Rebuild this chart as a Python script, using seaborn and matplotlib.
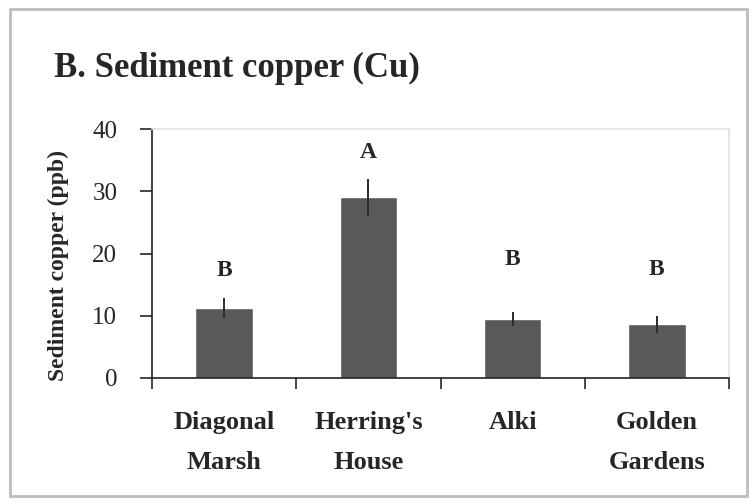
import pandas as pd
import matplotlib.pyplot as plt
import seaborn as sns
from matplotlib.patches import Rectangle

# Values
sites = ['Diagonal\nMarsh', "Herring's\nHouse", 'Alki', 'Golden\nGardens']
copper = [11.3, 29.0, 9.5, 8.6]
copper_err = [1.6, 3.0, 1.1, 1.3]
letters = ['B', 'A', 'B', 'B']
letter_y = [17.3, 36.3, 19.0, 17.5]

df = pd.DataFrame({'site': sites, 'copper': copper})

sns.set_style('white')
plt.rcParams['font.family'] = ['Liberation Serif', 'DejaVu Serif']

fig = plt.figure(figsize=(7.55, 5.04), dpi=100)
ax = fig.add_axes([0.2013, 0.25, 0.7643, 0.494])

# Bars and error bars
sns.barplot(data=df, x='site', y='copper', color='#595959', width=0.4,
            errorbar=None, saturation=1, ax=ax)
ax.errorbar(range(len(sites)), copper, yerr=copper_err, fmt='none',
            ecolor='#2a2a2a', elinewidth=1.4, capsize=0)

# Significance letters
for i, (lab, y) in enumerate(zip(letters, letter_y)):
    ax.text(i, y, lab, ha='center', va='center', fontsize=17, fontweight='bold')

ax.set_ylim(0, 40)
ax.set_yticks([0, 10, 20, 30, 40])
ax.set_xlim(-0.5, 3.5)
ax.tick_params(axis='y', labelsize=18, length=9, width=1.2, direction='out', left=True, pad=16)
ax.set_xticks(range(len(sites)))
ax.set_xticklabels(sites, fontsize=19, fontweight='bold', linespacing=1.95)
ax.tick_params(axis='x', length=0, pad=24)
ax.set_xticks([-0.5, 0.5, 1.5, 2.5, 3.5], minor=True)
ax.tick_params(axis='x', which='minor', length=8, width=1.2, direction='out', bottom=True)

ax.set_xlabel('')
ax.set_ylabel('Sediment copper (ppb)', fontsize=17, fontweight='bold')
ax.yaxis.set_label_coords(-0.143, 0.45)

for s in ['left', 'bottom']:
    ax.spines[s].set_color('#222222')
    ax.spines[s].set_linewidth(1.2)
for s in ['top', 'right']:
    ax.spines[s].set_color('#e0e0e0')
    ax.spines[s].set_linewidth(1.2)

fig.text(0.071, 0.848, 'B. Sediment copper (Cu)', fontsize=25, fontweight='bold')

# Outer frame around the figure
fig.patches.append(Rectangle((0.013, 0.015), 0.977, 0.968, transform=fig.transFigure,
                             fill=False, edgecolor='#bdbdbd', linewidth=2))

fig.savefig('out.png', dpi=100)
